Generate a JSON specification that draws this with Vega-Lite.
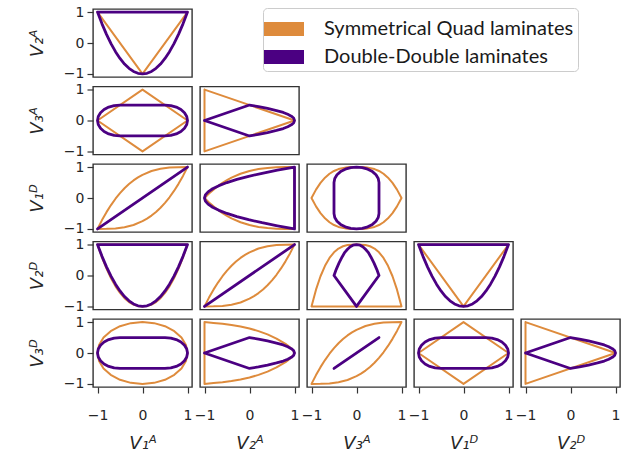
{
  "$schema": "https://vega.github.io/schema/vega-lite/v6.json",
  "padding": {"left": 27, "top": 4, "right": 5, "bottom": 2},
  "background": "white",
  "datasets": {
    "none": [],
    "triQ12": [{"i":0,"x":-1,"y":1},{"i":1,"x":0,"y":-1},{"i":2,"x":1,"y":1},{"i":3,"x":-1,"y":1}],
    "diamond": [{"i":0,"x":-1,"y":0},{"i":1,"x":0,"y":1},{"i":2,"x":1,"y":0},{"i":3,"x":0,"y":-1},{"i":4,"x":-1,"y":0}],
    "triQ23": [{"i":0,"x":-1,"y":1},{"i":1,"x":1,"y":0},{"i":2,"x":-1,"y":-1},{"i":3,"x":-1,"y":1}],
    "lens": [
      {"i":0,"x":-1,"y":-1},{"i":1,"x":-0.9,"y":-0.715},{"i":2,"x":-0.8,"y":-0.458},{"i":3,"x":-0.7,"y":-0.228},{"i":4,"x":-0.6,"y":-0.024},{"i":5,"x":-0.5,"y":0.156},{"i":6,"x":-0.4,"y":0.314},{"i":7,"x":-0.3,"y":0.451},{"i":8,"x":-0.2,"y":0.568},{"i":9,"x":-0.1,"y":0.667},{"i":10,"x":0,"y":0.75},{"i":11,"x":0.2,"y":0.872},{"i":12,"x":0.4,"y":0.946},{"i":13,"x":0.6,"y":0.984},{"i":14,"x":0.8,"y":0.998},{"i":15,"x":1,"y":1},
      {"i":16,"x":0.9,"y":0.715},{"i":17,"x":0.8,"y":0.458},{"i":18,"x":0.7,"y":0.228},{"i":19,"x":0.6,"y":0.024},{"i":20,"x":0.5,"y":-0.156},{"i":21,"x":0.4,"y":-0.314},{"i":22,"x":0.3,"y":-0.451},{"i":23,"x":0.2,"y":-0.568},{"i":24,"x":0.1,"y":-0.667},{"i":25,"x":0,"y":-0.75},{"i":26,"x":-0.2,"y":-0.872},{"i":27,"x":-0.4,"y":-0.946},{"i":28,"x":-0.6,"y":-0.984},{"i":29,"x":-0.8,"y":-0.998},{"i":30,"x":-1,"y":-1}
    ],
    "q21": [
      {"i":0,"x":-1,"y":0},{"i":1,"x":-0.9,"y":0.143},{"i":2,"x":-0.8,"y":0.271},{"i":3,"x":-0.7,"y":0.386},{"i":4,"x":-0.6,"y":0.488},{"i":5,"x":-0.5,"y":0.578},{"i":6,"x":-0.4,"y":0.657},{"i":7,"x":-0.2,"y":0.784},{"i":8,"x":0,"y":0.875},{"i":9,"x":0.2,"y":0.936},{"i":10,"x":0.4,"y":0.973},{"i":11,"x":0.6,"y":0.992},{"i":12,"x":0.8,"y":0.999},{"i":13,"x":1,"y":1},
      {"i":14,"x":1,"y":-1},{"i":15,"x":0.8,"y":-0.999},{"i":16,"x":0.6,"y":-0.992},{"i":17,"x":0.4,"y":-0.973},{"i":18,"x":0.2,"y":-0.936},{"i":19,"x":0,"y":-0.875},{"i":20,"x":-0.2,"y":-0.784},{"i":21,"x":-0.4,"y":-0.657},{"i":22,"x":-0.5,"y":-0.578},{"i":23,"x":-0.6,"y":-0.488},{"i":24,"x":-0.7,"y":-0.386},{"i":25,"x":-0.8,"y":-0.271},{"i":26,"x":-0.9,"y":-0.143},{"i":27,"x":-1,"y":0}
    ],
    "eye": [
      {"i":0,"x":-1,"y":0},{"i":1,"x":-0.9,"y":0.271},{"i":2,"x":-0.8,"y":0.488},{"i":3,"x":-0.7,"y":0.657},{"i":4,"x":-0.6,"y":0.784},{"i":5,"x":-0.5,"y":0.875},{"i":6,"x":-0.4,"y":0.936},{"i":7,"x":-0.2,"y":0.992},{"i":8,"x":0,"y":1},{"i":9,"x":0.2,"y":0.992},{"i":10,"x":0.4,"y":0.936},{"i":11,"x":0.5,"y":0.875},{"i":12,"x":0.6,"y":0.784},{"i":13,"x":0.7,"y":0.657},{"i":14,"x":0.8,"y":0.488},{"i":15,"x":0.9,"y":0.271},{"i":16,"x":1,"y":0},
      {"i":17,"x":0.9,"y":-0.271},{"i":18,"x":0.8,"y":-0.488},{"i":19,"x":0.7,"y":-0.657},{"i":20,"x":0.6,"y":-0.784},{"i":21,"x":0.5,"y":-0.875},{"i":22,"x":0.4,"y":-0.936},{"i":23,"x":0.2,"y":-0.992},{"i":24,"x":0,"y":-1},{"i":25,"x":-0.2,"y":-0.992},{"i":26,"x":-0.4,"y":-0.936},{"i":27,"x":-0.5,"y":-0.875},{"i":28,"x":-0.6,"y":-0.784},{"i":29,"x":-0.7,"y":-0.657},{"i":30,"x":-0.8,"y":-0.488},{"i":31,"x":-0.9,"y":-0.271},{"i":32,"x":-1,"y":0}
    ],
    "q12D": [
      {"i":0,"x":-1,"y":1},{"i":1,"x":-0.9,"y":0.586},{"i":2,"x":-0.8,"y":0.224},{"i":3,"x":-0.7,"y":-0.088},{"i":4,"x":-0.6,"y":-0.35},{"i":5,"x":-0.5,"y":-0.565},{"i":6,"x":-0.4,"y":-0.734},{"i":7,"x":-0.3,"y":-0.859},{"i":8,"x":-0.2,"y":-0.942},{"i":9,"x":-0.1,"y":-0.987},{"i":10,"x":0,"y":-1},{"i":11,"x":0.1,"y":-0.987},{"i":12,"x":0.2,"y":-0.942},{"i":13,"x":0.3,"y":-0.859},{"i":14,"x":0.4,"y":-0.734},{"i":15,"x":0.5,"y":-0.565},{"i":16,"x":0.6,"y":-0.35},{"i":17,"x":0.7,"y":-0.088},{"i":18,"x":0.8,"y":0.224},{"i":19,"x":0.9,"y":0.586},{"i":20,"x":1,"y":1},{"i":21,"x":-1,"y":1}
    ],
    "dome": [
      {"i":0,"x":-1,"y":-1},{"i":1,"x":-0.9,"y":-0.458},{"i":2,"x":-0.8,"y":-0.024},{"i":3,"x":-0.7,"y":0.314},{"i":4,"x":-0.6,"y":0.568},{"i":5,"x":-0.5,"y":0.75},{"i":6,"x":-0.4,"y":0.872},{"i":7,"x":-0.3,"y":0.946},{"i":8,"x":-0.2,"y":0.984},{"i":9,"x":0,"y":1},{"i":10,"x":0.2,"y":0.984},{"i":11,"x":0.3,"y":0.946},{"i":12,"x":0.4,"y":0.872},{"i":13,"x":0.5,"y":0.75},{"i":14,"x":0.6,"y":0.568},{"i":15,"x":0.7,"y":0.314},{"i":16,"x":0.8,"y":-0.024},{"i":17,"x":0.9,"y":-0.458},{"i":18,"x":1,"y":-1},{"i":19,"x":-1,"y":-1}
    ],
    "circle": [
      {"i":0,"x":1,"y":0},{"i":1,"x":0.966,"y":0.259},{"i":2,"x":0.866,"y":0.5},{"i":3,"x":0.707,"y":0.707},{"i":4,"x":0.5,"y":0.866},{"i":5,"x":0.259,"y":0.966},{"i":6,"x":0,"y":1},{"i":7,"x":-0.259,"y":0.966},{"i":8,"x":-0.5,"y":0.866},{"i":9,"x":-0.707,"y":0.707},{"i":10,"x":-0.866,"y":0.5},{"i":11,"x":-0.966,"y":0.259},{"i":12,"x":-1,"y":0},{"i":13,"x":-0.966,"y":-0.259},{"i":14,"x":-0.866,"y":-0.5},{"i":15,"x":-0.707,"y":-0.707},{"i":16,"x":-0.5,"y":-0.866},{"i":17,"x":-0.259,"y":-0.966},{"i":18,"x":0,"y":-1},{"i":19,"x":0.259,"y":-0.966},{"i":20,"x":0.5,"y":-0.866},{"i":21,"x":0.707,"y":-0.707},{"i":22,"x":0.866,"y":-0.5},{"i":23,"x":0.966,"y":-0.259},{"i":24,"x":1,"y":0}
    ],
    "q23D": [
      {"i":0,"x":-1,"y":-1},{"i":1,"x":-1,"y":1},{"i":2,"x":-0.8,"y":0.974},{"i":3,"x":-0.6,"y":0.943},{"i":4,"x":-0.4,"y":0.905},{"i":5,"x":-0.2,"y":0.855},{"i":6,"x":0,"y":0.791},{"i":7,"x":0.2,"y":0.708},{"i":8,"x":0.4,"y":0.602},{"i":9,"x":0.6,"y":0.468},{"i":10,"x":0.8,"y":0.294},{"i":11,"x":0.9,"y":0.183},{"i":12,"x":0.97,"y":0.083},{"i":13,"x":1,"y":0},
      {"i":14,"x":0.97,"y":-0.083},{"i":15,"x":0.9,"y":-0.183},{"i":16,"x":0.8,"y":-0.294},{"i":17,"x":0.6,"y":-0.468},{"i":18,"x":0.4,"y":-0.602},{"i":19,"x":0.2,"y":-0.708},{"i":20,"x":0,"y":-0.791},{"i":21,"x":-0.2,"y":-0.855},{"i":22,"x":-0.4,"y":-0.905},{"i":23,"x":-0.6,"y":-0.943},{"i":24,"x":-0.8,"y":-0.974},{"i":25,"x":-1,"y":-1}
    ],
    "parab": [
      {"i":0,"x":-1,"y":1},{"i":1,"x":-0.9,"y":0.62},{"i":2,"x":-0.8,"y":0.28},{"i":3,"x":-0.7,"y":-0.02},{"i":4,"x":-0.6,"y":-0.28},{"i":5,"x":-0.5,"y":-0.5},{"i":6,"x":-0.4,"y":-0.68},{"i":7,"x":-0.3,"y":-0.82},{"i":8,"x":-0.2,"y":-0.92},{"i":9,"x":-0.1,"y":-0.98},{"i":10,"x":0,"y":-1},{"i":11,"x":0.1,"y":-0.98},{"i":12,"x":0.2,"y":-0.92},{"i":13,"x":0.3,"y":-0.82},{"i":14,"x":0.4,"y":-0.68},{"i":15,"x":0.5,"y":-0.5},{"i":16,"x":0.6,"y":-0.28},{"i":17,"x":0.7,"y":-0.02},{"i":18,"x":0.8,"y":0.28},{"i":19,"x":0.9,"y":0.62},{"i":20,"x":1,"y":1},{"i":21,"x":-1,"y":1}
    ],
    "parabT": [
      {"i":0,"x":1,"y":-1},{"i":1,"x":0.62,"y":-0.9},{"i":2,"x":0.28,"y":-0.8},{"i":3,"x":-0.02,"y":-0.7},{"i":4,"x":-0.28,"y":-0.6},{"i":5,"x":-0.5,"y":-0.5},{"i":6,"x":-0.68,"y":-0.4},{"i":7,"x":-0.82,"y":-0.3},{"i":8,"x":-0.92,"y":-0.2},{"i":9,"x":-0.98,"y":-0.1},{"i":10,"x":-1,"y":0},{"i":11,"x":-0.98,"y":0.1},{"i":12,"x":-0.92,"y":0.2},{"i":13,"x":-0.82,"y":0.3},{"i":14,"x":-0.68,"y":0.4},{"i":15,"x":-0.5,"y":0.5},{"i":16,"x":-0.28,"y":0.6},{"i":17,"x":-0.02,"y":0.7},{"i":18,"x":0.28,"y":0.8},{"i":19,"x":0.62,"y":0.9},{"i":20,"x":1,"y":1},{"i":21,"x":1,"y":-1}
    ],
    "stadium": [
      {"i":0,"x":-0.5,"y":0.5},{"i":1,"x":0.5,"y":0.5},{"i":2,"x":0.629,"y":0.483},{"i":3,"x":0.75,"y":0.433},{"i":4,"x":0.854,"y":0.354},{"i":5,"x":0.933,"y":0.25},{"i":6,"x":0.983,"y":0.129},{"i":7,"x":1,"y":0},{"i":8,"x":0.983,"y":-0.129},{"i":9,"x":0.933,"y":-0.25},{"i":10,"x":0.854,"y":-0.354},{"i":11,"x":0.75,"y":-0.433},{"i":12,"x":0.629,"y":-0.483},{"i":13,"x":0.5,"y":-0.5},
      {"i":14,"x":-0.5,"y":-0.5},{"i":15,"x":-0.629,"y":-0.483},{"i":16,"x":-0.75,"y":-0.433},{"i":17,"x":-0.854,"y":-0.354},{"i":18,"x":-0.933,"y":-0.25},{"i":19,"x":-0.983,"y":-0.129},{"i":20,"x":-1,"y":0},{"i":21,"x":-0.983,"y":0.129},{"i":22,"x":-0.933,"y":0.25},{"i":23,"x":-0.854,"y":0.354},{"i":24,"x":-0.75,"y":0.433},{"i":25,"x":-0.629,"y":0.483},{"i":26,"x":-0.5,"y":0.5}
    ],
    "stadiumT": [
      {"i":0,"x":0.5,"y":-0.5},{"i":1,"x":0.5,"y":0.5},{"i":2,"x":0.483,"y":0.629},{"i":3,"x":0.433,"y":0.75},{"i":4,"x":0.354,"y":0.854},{"i":5,"x":0.25,"y":0.933},{"i":6,"x":0.129,"y":0.983},{"i":7,"x":0,"y":1},{"i":8,"x":-0.129,"y":0.983},{"i":9,"x":-0.25,"y":0.933},{"i":10,"x":-0.354,"y":0.854},{"i":11,"x":-0.433,"y":0.75},{"i":12,"x":-0.483,"y":0.629},{"i":13,"x":-0.5,"y":0.5},
      {"i":14,"x":-0.5,"y":-0.5},{"i":15,"x":-0.483,"y":-0.629},{"i":16,"x":-0.433,"y":-0.75},{"i":17,"x":-0.354,"y":-0.854},{"i":18,"x":-0.25,"y":-0.933},{"i":19,"x":-0.129,"y":-0.983},{"i":20,"x":0,"y":-1},{"i":21,"x":0.129,"y":-0.983},{"i":22,"x":0.25,"y":-0.933},{"i":23,"x":0.354,"y":-0.854},{"i":24,"x":0.433,"y":-0.75},{"i":25,"x":0.483,"y":-0.629},{"i":26,"x":0.5,"y":-0.5}
    ],
    "diag": [{"i":0,"x":-1,"y":-1},{"i":1,"x":1,"y":1}],
    "shortdiag": [{"i":0,"x":-0.5,"y":-0.5},{"i":1,"x":0.5,"y":0.5}],
    "p23": [
      {"i":0,"x":-1,"y":0},{"i":1,"x":0,"y":0.5},{"i":2,"x":0.2,"y":0.45},{"i":3,"x":0.4,"y":0.39},{"i":4,"x":0.6,"y":0.32},{"i":5,"x":0.75,"y":0.26},{"i":6,"x":0.85,"y":0.2},{"i":7,"x":0.93,"y":0.14},{"i":8,"x":0.98,"y":0.08},{"i":9,"x":1,"y":0},
      {"i":10,"x":0.98,"y":-0.08},{"i":11,"x":0.93,"y":-0.14},{"i":12,"x":0.85,"y":-0.2},{"i":13,"x":0.75,"y":-0.26},{"i":14,"x":0.6,"y":-0.32},{"i":15,"x":0.4,"y":-0.39},{"i":16,"x":0.2,"y":-0.45},{"i":17,"x":0,"y":-0.5},{"i":18,"x":-1,"y":0}
    ],
    "p32": [
      {"i":0,"x":0,"y":-1},{"i":1,"x":0.5,"y":0},{"i":2,"x":0.45,"y":0.2},{"i":3,"x":0.39,"y":0.4},{"i":4,"x":0.32,"y":0.6},{"i":5,"x":0.26,"y":0.75},{"i":6,"x":0.2,"y":0.85},{"i":7,"x":0.14,"y":0.93},{"i":8,"x":0.08,"y":0.98},{"i":9,"x":0,"y":1},
      {"i":10,"x":-0.08,"y":0.98},{"i":11,"x":-0.14,"y":0.93},{"i":12,"x":-0.2,"y":0.85},{"i":13,"x":-0.26,"y":0.75},{"i":14,"x":-0.32,"y":0.6},{"i":15,"x":-0.39,"y":0.4},{"i":16,"x":-0.45,"y":0.2},{"i":17,"x":-0.5,"y":0},{"i":18,"x":0,"y":-1}
    ]
  },
  "resolve": {"scale": {"color": "shared"}, "legend": {"color": "shared"}},
  "columns": 5,
  "spacing": {"row": 9.5, "column": 8},
  "bounds": "flush",
  "concat": [
    {
      "width": 99, "height": 68,
      "encoding": {
        "x": {"field": "x", "type": "quantitative", "scale": {"domain": [-1.1, 1.1], "nice": false, "zero": false}, "axis": null},
        "y": {"field": "y", "type": "quantitative", "scale": {"domain": [-1.1, 1.1], "nice": false, "zero": false}, "axis": {"title": "V₂ᴬ"}},
        "order": {"field": "i"}
      },
      "layer": [
        {"data": {"name": "triQ12"}, "mark": {"type": "line", "strokeWidth": 2},
         "encoding": {"color": {"datum": "Symmetrical Quad laminates", "type": "nominal",
           "scale": {"domain": ["Symmetrical Quad laminates", "Double-Double laminates"], "range": ["#DE8B3C", "#4B0082"]},
           "legend": {"orient": "none", "legendX": 170, "legendY": -1, "title": null,
             "symbolType": "M-2,0H2", "symbolSize": 400, "symbolStrokeWidth": 14, "symbolOpacity": 1, "rowPadding": 1,
             "labelFont": "Lato", "labelFontSize": 20, "labelColor": "#1a1a1a", "labelOffset": 23, "labelLimit": 400,
             "padding": 4, "strokeColor": "#cccccc", "fillColor": "white", "cornerRadius": 4}}}},
        {"data": {"name": "parab"}, "mark": {"type": "line", "strokeWidth": 2.8}, "encoding": {"color": {"datum": "Double-Double laminates", "type": "nominal"}}}
      ]
    },
    {"width": 99, "height": 68, "data": {"name": "none"}, "mark": "point", "view": {"stroke": null}},
    {"width": 99, "height": 68, "data": {"name": "none"}, "mark": "point", "view": {"stroke": null}},
    {"width": 99, "height": 68, "data": {"name": "none"}, "mark": "point", "view": {"stroke": null}},
    {"width": 99, "height": 68, "data": {"name": "none"}, "mark": "point", "view": {"stroke": null}},
    {
      "width": 99, "height": 68,
      "encoding": {
        "x": {"field": "x", "type": "quantitative", "scale": {"domain": [-1.1, 1.1], "nice": false, "zero": false}, "axis": null},
        "y": {"field": "y", "type": "quantitative", "scale": {"domain": [-1.1, 1.1], "nice": false, "zero": false}, "axis": {"title": "V₃ᴬ"}},
        "order": {"field": "i"}
      },
      "layer": [
        {"data": {"name": "diamond"}, "mark": {"type": "line", "strokeWidth": 2}, "encoding": {"color": {"datum": "Symmetrical Quad laminates", "type": "nominal"}}},
        {"data": {"name": "stadium"}, "mark": {"type": "line", "strokeWidth": 2.8}, "encoding": {"color": {"datum": "Double-Double laminates", "type": "nominal"}}}
      ]
    },
    {
      "width": 99, "height": 68,
      "encoding": {
        "x": {"field": "x", "type": "quantitative", "scale": {"domain": [-1.1, 1.1], "nice": false, "zero": false}, "axis": null},
        "y": {"field": "y", "type": "quantitative", "scale": {"domain": [-1.1, 1.1], "nice": false, "zero": false}, "axis": null},
        "order": {"field": "i"}
      },
      "layer": [
        {"data": {"name": "triQ23"}, "mark": {"type": "line", "strokeWidth": 2}, "encoding": {"color": {"datum": "Symmetrical Quad laminates", "type": "nominal"}}},
        {"data": {"name": "p23"}, "mark": {"type": "line", "strokeWidth": 2.8}, "encoding": {"color": {"datum": "Double-Double laminates", "type": "nominal"}}}
      ]
    },
    {"width": 99, "height": 68, "data": {"name": "none"}, "mark": "point", "view": {"stroke": null}},
    {"width": 99, "height": 68, "data": {"name": "none"}, "mark": "point", "view": {"stroke": null}},
    {"width": 99, "height": 68, "data": {"name": "none"}, "mark": "point", "view": {"stroke": null}},
    {
      "width": 99, "height": 68,
      "encoding": {
        "x": {"field": "x", "type": "quantitative", "scale": {"domain": [-1.1, 1.1], "nice": false, "zero": false}, "axis": null},
        "y": {"field": "y", "type": "quantitative", "scale": {"domain": [-1.1, 1.1], "nice": false, "zero": false}, "axis": {"title": "V₁ᴰ"}},
        "order": {"field": "i"}
      },
      "layer": [
        {"data": {"name": "lens"}, "mark": {"type": "line", "strokeWidth": 2}, "encoding": {"color": {"datum": "Symmetrical Quad laminates", "type": "nominal"}}},
        {"data": {"name": "diag"}, "mark": {"type": "line", "strokeWidth": 2.8}, "encoding": {"color": {"datum": "Double-Double laminates", "type": "nominal"}}}
      ]
    },
    {
      "width": 99, "height": 68,
      "encoding": {
        "x": {"field": "x", "type": "quantitative", "scale": {"domain": [-1.1, 1.1], "nice": false, "zero": false}, "axis": null},
        "y": {"field": "y", "type": "quantitative", "scale": {"domain": [-1.1, 1.1], "nice": false, "zero": false}, "axis": null},
        "order": {"field": "i"}
      },
      "layer": [
        {"data": {"name": "q21"}, "mark": {"type": "line", "strokeWidth": 2}, "encoding": {"color": {"datum": "Symmetrical Quad laminates", "type": "nominal"}}},
        {"data": {"name": "parabT"}, "mark": {"type": "line", "strokeWidth": 2.8}, "encoding": {"color": {"datum": "Double-Double laminates", "type": "nominal"}}}
      ]
    },
    {
      "width": 99, "height": 68,
      "encoding": {
        "x": {"field": "x", "type": "quantitative", "scale": {"domain": [-1.1, 1.1], "nice": false, "zero": false}, "axis": null},
        "y": {"field": "y", "type": "quantitative", "scale": {"domain": [-1.1, 1.1], "nice": false, "zero": false}, "axis": null},
        "order": {"field": "i"}
      },
      "layer": [
        {"data": {"name": "eye"}, "mark": {"type": "line", "strokeWidth": 2}, "encoding": {"color": {"datum": "Symmetrical Quad laminates", "type": "nominal"}}},
        {"data": {"name": "stadiumT"}, "mark": {"type": "line", "strokeWidth": 2.8}, "encoding": {"color": {"datum": "Double-Double laminates", "type": "nominal"}}}
      ]
    },
    {"width": 99, "height": 68, "data": {"name": "none"}, "mark": "point", "view": {"stroke": null}},
    {"width": 99, "height": 68, "data": {"name": "none"}, "mark": "point", "view": {"stroke": null}},
    {
      "width": 99, "height": 68,
      "encoding": {
        "x": {"field": "x", "type": "quantitative", "scale": {"domain": [-1.1, 1.1], "nice": false, "zero": false}, "axis": null},
        "y": {"field": "y", "type": "quantitative", "scale": {"domain": [-1.1, 1.1], "nice": false, "zero": false}, "axis": {"title": "V₂ᴰ"}},
        "order": {"field": "i"}
      },
      "layer": [
        {"data": {"name": "q12D"}, "mark": {"type": "line", "strokeWidth": 2}, "encoding": {"color": {"datum": "Symmetrical Quad laminates", "type": "nominal"}}},
        {"data": {"name": "parab"}, "mark": {"type": "line", "strokeWidth": 2.8}, "encoding": {"color": {"datum": "Double-Double laminates", "type": "nominal"}}}
      ]
    },
    {
      "width": 99, "height": 68,
      "encoding": {
        "x": {"field": "x", "type": "quantitative", "scale": {"domain": [-1.1, 1.1], "nice": false, "zero": false}, "axis": null},
        "y": {"field": "y", "type": "quantitative", "scale": {"domain": [-1.1, 1.1], "nice": false, "zero": false}, "axis": null},
        "order": {"field": "i"}
      },
      "layer": [
        {"data": {"name": "lens"}, "mark": {"type": "line", "strokeWidth": 2}, "encoding": {"color": {"datum": "Symmetrical Quad laminates", "type": "nominal"}}},
        {"data": {"name": "diag"}, "mark": {"type": "line", "strokeWidth": 2.8}, "encoding": {"color": {"datum": "Double-Double laminates", "type": "nominal"}}}
      ]
    },
    {
      "width": 99, "height": 68,
      "encoding": {
        "x": {"field": "x", "type": "quantitative", "scale": {"domain": [-1.1, 1.1], "nice": false, "zero": false}, "axis": null},
        "y": {"field": "y", "type": "quantitative", "scale": {"domain": [-1.1, 1.1], "nice": false, "zero": false}, "axis": null},
        "order": {"field": "i"}
      },
      "layer": [
        {"data": {"name": "dome"}, "mark": {"type": "line", "strokeWidth": 2}, "encoding": {"color": {"datum": "Symmetrical Quad laminates", "type": "nominal"}}},
        {"data": {"name": "p32"}, "mark": {"type": "line", "strokeWidth": 2.8}, "encoding": {"color": {"datum": "Double-Double laminates", "type": "nominal"}}}
      ]
    },
    {
      "width": 99, "height": 68,
      "encoding": {
        "x": {"field": "x", "type": "quantitative", "scale": {"domain": [-1.1, 1.1], "nice": false, "zero": false}, "axis": null},
        "y": {"field": "y", "type": "quantitative", "scale": {"domain": [-1.1, 1.1], "nice": false, "zero": false}, "axis": null},
        "order": {"field": "i"}
      },
      "layer": [
        {"data": {"name": "triQ12"}, "mark": {"type": "line", "strokeWidth": 2}, "encoding": {"color": {"datum": "Symmetrical Quad laminates", "type": "nominal"}}},
        {"data": {"name": "parab"}, "mark": {"type": "line", "strokeWidth": 2.8}, "encoding": {"color": {"datum": "Double-Double laminates", "type": "nominal"}}}
      ]
    },
    {"width": 99, "height": 68, "data": {"name": "none"}, "mark": "point", "view": {"stroke": null}},
    {
      "width": 99, "height": 68,
      "encoding": {
        "x": {"field": "x", "type": "quantitative", "scale": {"domain": [-1.1, 1.1], "nice": false, "zero": false}, "axis": {"title": "V₁ᴬ"}},
        "y": {"field": "y", "type": "quantitative", "scale": {"domain": [-1.1, 1.1], "nice": false, "zero": false}, "axis": {"title": "V₃ᴰ"}},
        "order": {"field": "i"}
      },
      "layer": [
        {"data": {"name": "circle"}, "mark": {"type": "line", "strokeWidth": 2}, "encoding": {"color": {"datum": "Symmetrical Quad laminates", "type": "nominal"}}},
        {"data": {"name": "stadium"}, "mark": {"type": "line", "strokeWidth": 2.8}, "encoding": {"color": {"datum": "Double-Double laminates", "type": "nominal"}}}
      ]
    },
    {
      "width": 99, "height": 68,
      "encoding": {
        "x": {"field": "x", "type": "quantitative", "scale": {"domain": [-1.1, 1.1], "nice": false, "zero": false}, "axis": {"title": "V₂ᴬ"}},
        "y": {"field": "y", "type": "quantitative", "scale": {"domain": [-1.1, 1.1], "nice": false, "zero": false}, "axis": null},
        "order": {"field": "i"}
      },
      "layer": [
        {"data": {"name": "q23D"}, "mark": {"type": "line", "strokeWidth": 2}, "encoding": {"color": {"datum": "Symmetrical Quad laminates", "type": "nominal"}}},
        {"data": {"name": "p23"}, "mark": {"type": "line", "strokeWidth": 2.8}, "encoding": {"color": {"datum": "Double-Double laminates", "type": "nominal"}}}
      ]
    },
    {
      "width": 99, "height": 68,
      "encoding": {
        "x": {"field": "x", "type": "quantitative", "scale": {"domain": [-1.1, 1.1], "nice": false, "zero": false}, "axis": {"title": "V₃ᴬ"}},
        "y": {"field": "y", "type": "quantitative", "scale": {"domain": [-1.1, 1.1], "nice": false, "zero": false}, "axis": null},
        "order": {"field": "i"}
      },
      "layer": [
        {"data": {"name": "lens"}, "mark": {"type": "line", "strokeWidth": 2}, "encoding": {"color": {"datum": "Symmetrical Quad laminates", "type": "nominal"}}},
        {"data": {"name": "shortdiag"}, "mark": {"type": "line", "strokeWidth": 2.8}, "encoding": {"color": {"datum": "Double-Double laminates", "type": "nominal"}}}
      ]
    },
    {
      "width": 99, "height": 68,
      "encoding": {
        "x": {"field": "x", "type": "quantitative", "scale": {"domain": [-1.1, 1.1], "nice": false, "zero": false}, "axis": {"title": "V₁ᴰ"}},
        "y": {"field": "y", "type": "quantitative", "scale": {"domain": [-1.1, 1.1], "nice": false, "zero": false}, "axis": null},
        "order": {"field": "i"}
      },
      "layer": [
        {"data": {"name": "diamond"}, "mark": {"type": "line", "strokeWidth": 2}, "encoding": {"color": {"datum": "Symmetrical Quad laminates", "type": "nominal"}}},
        {"data": {"name": "stadium"}, "mark": {"type": "line", "strokeWidth": 2.8}, "encoding": {"color": {"datum": "Double-Double laminates", "type": "nominal"}}}
      ]
    },
    {
      "width": 99, "height": 68,
      "encoding": {
        "x": {"field": "x", "type": "quantitative", "scale": {"domain": [-1.1, 1.1], "nice": false, "zero": false}, "axis": {"title": "V₂ᴰ"}},
        "y": {"field": "y", "type": "quantitative", "scale": {"domain": [-1.1, 1.1], "nice": false, "zero": false}, "axis": null},
        "order": {"field": "i"}
      },
      "layer": [
        {"data": {"name": "triQ23"}, "mark": {"type": "line", "strokeWidth": 2}, "encoding": {"color": {"datum": "Symmetrical Quad laminates", "type": "nominal"}}},
        {"data": {"name": "p23"}, "mark": {"type": "line", "strokeWidth": 2.8}, "encoding": {"color": {"datum": "Double-Double laminates", "type": "nominal"}}}
      ]
    }
  ],
  "config": {
    "view": {"stroke": "#333333", "strokeWidth": 1.4},
    "line": {"strokeJoin": "round", "strokeCap": "round"},
    "axis": {
      "values": [-1, 0, 1], "grid": false, "domain": false,
      "ticks": true, "tickSize": 6, "tickColor": "#333333", "tickWidth": 1.2,
      "labelFont": "DejaVu Sans", "labelFontSize": 14, "labelColor": "#262626", "labelPadding": 3,
      "labelFlush": false, "labelBound": false, "labelOverlap": false,
      "titleFont": "DejaVu Sans", "titleFontSize": 18, "titleFontStyle": "italic", "titleFontWeight": "normal", "titleColor": "#262626"
    },
    "axisY": {"titlePadding": 17},
    "axisX": {"titlePadding": 12, "labelPadding": 15}
  }
}
